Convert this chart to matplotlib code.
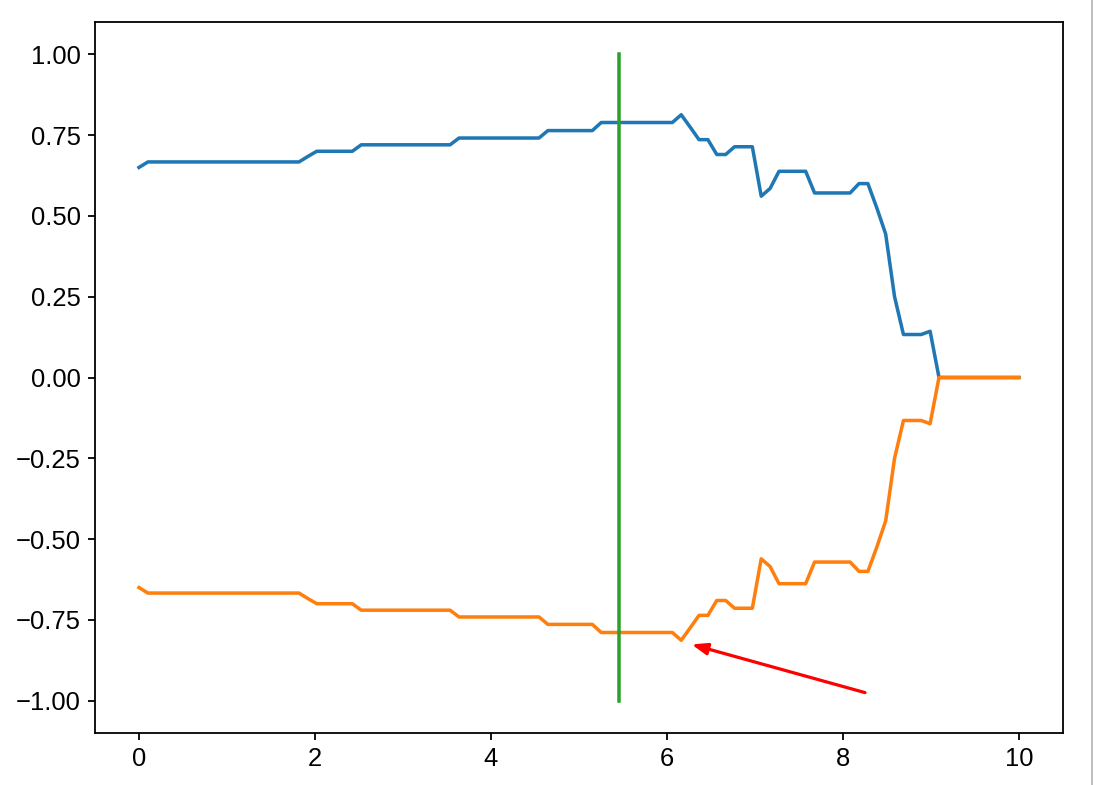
import numpy as np
import matplotlib
matplotlib.use("Agg")
import matplotlib.pyplot as plt
from matplotlib.lines import Line2D

# x grid: 100 evenly spaced samples between 0 and 10
x_values = np.linspace(0, 10, 100)

blue_values = (
    [0.650]
    + [0.667] * 18
    + [0.684]
    + [0.700] * 5
    + [0.720] * 11
    + [0.741] * 10
    + [0.764] * 6
    + [0.789] * 9
    + [0.813, 0.775, 0.736, 0.736, 0.690, 0.690, 0.714, 0.714, 0.714,
       0.561, 0.585, 0.638, 0.638, 0.638, 0.638,
       0.571, 0.571, 0.571, 0.571, 0.571,
       0.600, 0.600, 0.525, 0.444, 0.250, 0.133, 0.133, 0.133, 0.143]
    + [0.0] * 10
)

orange_values = (
    [-0.650]
    + [-0.667] * 18
    + [-0.684]
    + [-0.700] * 5
    + [-0.720] * 11
    + [-0.741] * 10
    + [-0.764] * 6
    + [-0.789] * 9
    + [-0.813, -0.775, -0.736, -0.736, -0.690, -0.690, -0.714, -0.714, -0.714,
       -0.561, -0.585, -0.638, -0.638, -0.638, -0.638,
       -0.571, -0.571, -0.571, -0.571, -0.571,
       -0.600, -0.600, -0.525, -0.444, -0.250, -0.133, -0.133, -0.133, -0.143]
    + [0.0] * 10
)

marker_x = x_values[54]
marker_y = [-1.0, 1.0]

arrow_tail = (8.25, -0.975)
arrow_head = (6.28, -0.826)

x_ticks = [0, 2, 4, 6, 8, 10]
y_ticks = [-1.0, -0.75, -0.5, -0.25, 0.0, 0.25, 0.5, 0.75, 1.0]
y_tick_labels = ['\u22121.00', '\u22120.75', '\u22120.50', '\u22120.25',
                 '0.00', '0.25', '0.50', '0.75', '1.00']

plt.rcParams['font.family'] = ['Liberation Sans', 'DejaVu Sans']
plt.rcParams['font.size'] = 12.8
plt.rcParams['axes.linewidth'] = 0.9

fig = plt.figure(figsize=(1097 / 144, 785 / 144), dpi=144)
ax = fig.add_axes([95 / 1097, 52 / 785, 968 / 1097, 711 / 785])

ax.plot(x_values, blue_values, color='#1f77b4', lw=1.75)
ax.plot(x_values, orange_values, color='#ff7f0e', lw=1.75)
ax.plot([marker_x, marker_x], marker_y, color='#2ca02c', lw=1.75)

ax.annotate('', xy=arrow_head, xytext=arrow_tail,
            arrowprops=dict(arrowstyle='-|>,head_length=0.4,head_width=0.15',
                            color='red', lw=1.6, mutation_scale=16,
                            shrinkA=0, shrinkB=0))

ax.set_xlim(-0.5, 10.5)
ax.set_ylim(-1.1, 1.1)
ax.set_xticks(x_ticks)
ax.set_yticks(y_ticks)
ax.set_yticklabels(y_tick_labels)
ax.tick_params(width=0.9)

fig.add_artist(Line2D([1091.5 / 1097, 1091.5 / 1097], [0, 1], transform=fig.transFigure,
                      color='#b0b0b0', lw=0.8))

fig.savefig('out.png', dpi=144)
